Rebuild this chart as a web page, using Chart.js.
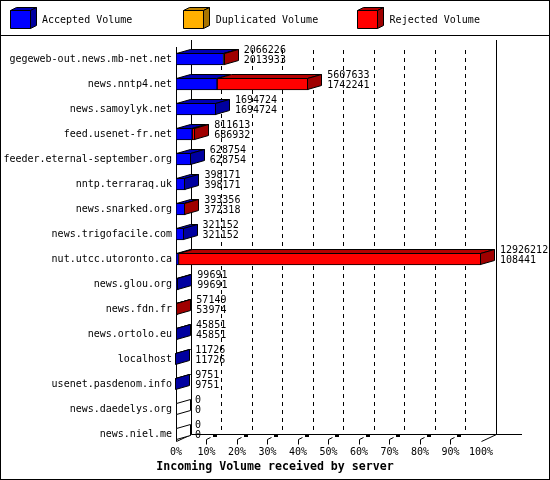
<!DOCTYPE html>
<html>
<head>
<meta charset="utf-8">
<script src="https://cdn.jsdelivr.net/npm/chart.js@4"></script>
<style>
  html, body { margin: 0; padding: 0; background: #fff; }
  #wrap { width: 550px; height: 480px; position: relative; }
</style>
</head>
<body>
<div id="wrap"><canvas id="chart"></canvas></div>
<script>
const hosts = [
  "gegeweb-out.news.mb-net.net", "news.nntp4.net", "news.samoylyk.net", "feed.usenet-fr.net",
  "feeder.eternal-september.org", "nntp.terraraq.uk", "news.snarked.org", "news.trigofacile.com",
  "nut.utcc.utoronto.ca", "news.glou.org", "news.fdn.fr", "news.ortolo.eu",
  "localhost", "usenet.pasdenom.info", "news.daedelys.org", "news.niel.me"
];
const totalVolume = [2066226, 5607633, 1694724, 811613, 628754, 398171, 393356, 321152,
                     12926212, 99691, 57149, 45851, 11726, 9751, 0, 0];
const acceptedVolume = [2013933, 1742241, 1694724, 686932, 628754, 398171, 372318, 321152,
                        108441, 99691, 53974, 45851, 11726, 9751, 0, 0];
const duplicatedVolume = [0, 0, 0, 0, 0, 0, 0, 0, 0, 0, 0, 0, 0, 0, 0, 0];
const tickLabels = ["0%", "10%", "20%", "30%", "40%", "50%", "60%", "70%", "80%", "90%", "100%"];

// rejected = what is left of the total once accepted + duplicated are taken out
const rejectedVolume = totalVolume.map((t, i) => t - acceptedVolume[i] - duplicatedVolume[i]);
const maxVolume = Math.max(...totalVolume);

const DX = 14, DY = -4;    // bar depth
const FDX = 15, FDY = -7;  // frame depth

Chart.defaults.font.family = "'DejaVu Sans Mono', monospace";
Chart.defaults.font.size = 10;
Chart.defaults.color = "#000";

function poly(ctx, pts, fill) {
  ctx.beginPath();
  ctx.moveTo(pts[0][0], pts[0][1]);
  for (let i = 1; i < pts.length; i++) ctx.lineTo(pts[i][0], pts[i][1]);
  ctx.closePath();
  if (fill) { ctx.fillStyle = fill; ctx.fill(); }
  ctx.stroke();
}

function line(ctx, x1, y1, x2, y2) {
  ctx.beginPath();
  ctx.moveTo(x1, y1);
  ctx.lineTo(x2, y2);
  ctx.stroke();
}

const snap = v => Math.floor(v) + 0.5;

const threeD = {
  id: "threeD",
  afterLayout(chart) {
    // centre the bottom title on the whole picture
    const t = chart.titleBlock;
    if (t) { t.left = 0; t.right = chart.width; t.width = chart.width; }
  },
  beforeDatasetsDraw(chart) {
    const { ctx, chartArea: a, scales: { x } } = chart;
    ctx.save();
    ctx.strokeStyle = "#000";
    ctx.lineWidth = 1;

    // outer frame + legend separator
    ctx.strokeRect(0.5, 0.5, chart.width - 1, chart.height - 1);
    line(ctx, 0, 35.5, chart.width, 35.5);

    // legend with little cubes
    chart.data.datasets.forEach((ds, d) => {
      const lx = 10 + d * 173.8, ly = 10.5;
      const cx = snap(lx);
      poly(ctx, [[cx, ly], [cx + 6, ly - 3], [cx + 26, ly - 3], [cx + 20, ly]], ds.topColor);
      poly(ctx, [[cx + 20, ly], [cx + 26, ly - 3], [cx + 26, ly + 15], [cx + 20, ly + 18]], ds.sideColor);
      poly(ctx, [[cx, ly], [cx + 20, ly], [cx + 20, ly + 18], [cx, ly + 18]], ds.backgroundColor);
      ctx.fillStyle = "#000";
      ctx.font = "10px 'DejaVu Sans Mono'";
      ctx.textBaseline = "middle";
      ctx.textAlign = "left";
      ctx.fillText(ds.label, lx + 32, 20);
    });

    const x0 = x.getPixelForValue(0);
    const x1 = x.getPixelForValue(maxVolume);
    const floorY = snap(a.bottom - 5.5);
    const topY = a.top - 6.5;

    // walls
    line(ctx, snap(x0), topY - FDY, snap(x0), floorY);
    line(ctx, snap(x0 + FDX), topY, snap(x0 + FDX), floorY + FDY);
    line(ctx, snap(x1 + FDX), topY, snap(x1 + FDX), floorY + FDY);
    line(ctx, snap(x0 + FDX), floorY + FDY, 522, floorY + FDY);
    line(ctx, snap(x0), floorY, snap(x0 + FDX), floorY + FDY);
    line(ctx, snap(x1), floorY, snap(x1 + FDX), floorY + FDY);

    // dashed grid on the back wall
    ctx.setLineDash([4, 4]);
    x.ticks.forEach((t, i) => {
      if (i === 0 || i === x.ticks.length - 1) return;
      const gx = snap(x.getPixelForValue(t.value) + FDX);
      line(ctx, gx, topY + 10, gx, floorY + FDY);
    });
    ctx.setLineDash([]);

    // tick marks on the floor
    x.ticks.forEach((t, i) => {
      if (i === 0 || i === x.ticks.length - 1) return;
      const tx = snap(x.getPixelForValue(t.value));
      line(ctx, tx, floorY - 2, tx, floorY + 3);
      line(ctx, tx, floorY - 2, tx + 4, floorY - 4);
      ctx.fillStyle = "#000";
      ctx.fillRect(tx + 6.5, floorY + FDY - 0.5, 4, 3);
    });
    ctx.restore();
  },
  afterDatasetsDraw(chart) {
    const { ctx, scales: { x } } = chart;
    const x0 = x.getPixelForValue(0);
    ctx.save();
    ctx.strokeStyle = "#000";
    ctx.lineWidth = 1;
    hosts.forEach((h, i) => {
      const first = chart.getDatasetMeta(0).data[i].getProps(["y", "height"], true);
      const ft = first.y - first.height / 2;
      const fb = first.y + first.height / 2;
      const t = snap(ft), b = snap(fb - 1);
      let outer = null;
      chart.data.datasets.forEach((ds, d) => {
        if (!(ds.data[i] > 0)) return;
        const p = chart.getDatasetMeta(d).data[i].getProps(["x", "base"], true);
        const s = snap(p.base), e = snap(p.x - 0.5);
        poly(ctx, [[s, t], [s + DX, t + DY], [e + DX, t + DY], [e, t]], ds.topColor);
        outer = { end: p.x, side: ds.sideColor };
      });
      const end = outer ? outer.end : x0;
      const e = outer ? snap(end - 0.5) : snap(x0);
      poly(ctx, [[e, t], [e + DX, t + DY], [e + DX, b + DY], [e, b]], outer ? outer.side : "#fff");

      ctx.fillStyle = "#000";
      ctx.font = "10px 'DejaVu Sans Mono'";
      ctx.textAlign = "left";
      ctx.textBaseline = "middle";
      ctx.fillText(String(totalVolume[i]), end + DX + 5, ft - 3);
      ctx.fillText(String(acceptedVolume[i]), end + DX + 5, ft + 7.5);
    });
    ctx.restore();
  }
};

new Chart(document.getElementById("chart"), {
  type: "bar",
  data: {
    labels: hosts,
    datasets: [
      { label: "Accepted Volume", data: acceptedVolume, backgroundColor: "#0000FF",
        topColor: "#0000B4", sideColor: "#0000A0" },
      { label: "Duplicated Volume", data: duplicatedVolume, backgroundColor: "#FFB000",
        topColor: "#C08400", sideColor: "#A87400" },
      { label: "Rejected Volume", data: rejectedVolume, backgroundColor: "#FF0000",
        topColor: "#B40000", sideColor: "#A00000" }
    ]
  },
  options: {
    indexAxis: "y",
    responsive: true,
    maintainAspectRatio: false,
    animation: false,
    devicePixelRatio: 1,
    layout: { padding: { left: 1, right: 69, top: 46.5, bottom: 6 } },
    datasets: {
      bar: { barThickness: 12, borderWidth: 1, borderColor: "#000", borderSkipped: false }
    },
    scales: {
      x: {
        stacked: true,
        min: 0,
        max: maxVolume,
        grid: { display: false, drawTicks: false },
        border: { display: false },
        afterBuildTicks: s => { s.ticks = tickLabels.map((_, i) => ({ value: maxVolume * i / 10 })); },
        afterFit: s => { s.height = 480 - 6 - 13.92 - 446.5; },
        ticks: { padding: 0, maxRotation: 0, autoSkip: false, callback: (v, i) => tickLabels[i] }
      },
      y: {
        stacked: true,
        grid: { display: false, drawTicks: false },
        border: { display: false },
        afterFit: s => { s.width = 175; },
        ticks: { padding: 4, autoSkip: false }
      }
    },
    plugins: {
      legend: { display: false },
      tooltip: { enabled: false },
      title: {
        display: true,
        position: "bottom",
        text: "Incoming Volume received by server",
        color: "#000",
        font: { family: "'DejaVu Sans Mono'", size: 11.6, weight: "bold", lineHeight: 1.2 },
        padding: { top: 0, bottom: 0 }
      }
    }
  },
  plugins: [threeD]
});
</script>
</body>
</html>
